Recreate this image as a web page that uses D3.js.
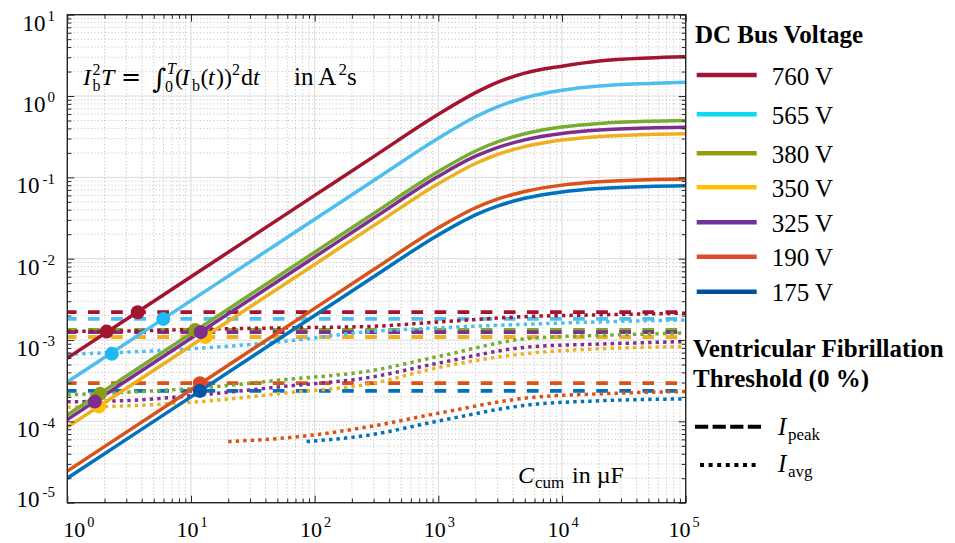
<!DOCTYPE html>
<html>
<head>
<meta charset="utf-8">
<script src="https://cdn.jsdelivr.net/npm/d3@7"></script>
<style>
  html, body { margin: 0; padding: 0; background: #fff; }
  svg { display: block; font-family: "Liberation Serif", "Times New Roman", serif; }
</style>
</head>
<body>
<svg id="chart" width="955" height="543"></svg>
<script>
// ---------- data ----------
const seriesNames = ['760 V', '565 V', '380 V', '350 V', '325 V', '190 V', '175 V'];

// cumulative capacitance (µF) at which the I²T curves are sampled
const capacitance = [1, 10, 100, 300, 1000, 2000, 3000, 5000, 10000, 20000, 50000, 100000];
// I²T in A²s for each DC bus voltage
const i2t760 = [6.0e-4, 6.0e-3, 0.060, 0.180, 0.596, 1.10, 1.47, 1.91, 2.33, 2.70, 2.94, 3.04];
const i2t565 = [3.05e-4, 3.05e-3, 0.0305, 0.0915, 0.303, 0.557, 0.736, 0.953, 1.18, 1.33, 1.43, 1.48];
const i2t380 = [1.2e-4, 1.2e-3, 0.012, 0.036, 0.118, 0.211, 0.273, 0.344, 0.415, 0.459, 0.489, 0.500];
const i2t350 = [8.5e-5, 8.5e-4, 0.0085, 0.0255, 0.0836, 0.148, 0.191, 0.239, 0.288, 0.317, 0.337, 0.344];
const i2t325 = [1.05e-4, 1.05e-3, 0.0105, 0.0315, 0.103, 0.182, 0.232, 0.289, 0.346, 0.381, 0.404, 0.412];
const i2t190 = [2.45e-5, 2.45e-4, 2.45e-3, 7.35e-3, 0.0240, 0.0423, 0.0539, 0.0671, 0.0803, 0.0882, 0.0935, 0.0954];
const i2t175 = [2.0e-5, 2.0e-4, 2.0e-3, 6.0e-3, 0.0196, 0.0346, 0.0443, 0.0553, 0.0662, 0.0728, 0.0773, 0.0788];

// ventricular fibrillation threshold from the peak current (constant)
const peakThreshold = [2.20e-3, 1.82e-3, 1.33e-3, 1.09e-3, 1.25e-3, 2.95e-4, 2.37e-4];

// ventricular fibrillation threshold from the average current
const avgCap = [1, 3, 12, 55, 280, 1000, 5500, 20000, 100000];
const avg760 = [1.28e-3, 1.29e-3, 1.36e-3, 1.41e-3, 1.47e-3, 1.67e-3, 1.95e-3, 2.04e-3, 2.14e-3];
const avg565 = [6.71e-4, 7.1e-4, 7.94e-4, 9.59e-4, 1.27e-3, 1.41e-3, 1.57e-3, 1.67e-3, 1.77e-3];
const avg380 = [2.12e-4, 2.28e-4, 2.58e-4, 3.24e-4, 4.18e-4, 6.27e-4, 1.05e-3, 1.14e-3, 1.22e-3];
const avg350 = [1.49e-4, 1.55e-4, 1.75e-4, 2.22e-4, 2.89e-4, 4.59e-4, 6.90e-4, 7.80e-4, 8.32e-4];
const avg325 = [1.74e-4, 1.80e-4, 2.12e-4, 2.68e-4, 3.48e-4, 5.20e-4, 8.24e-4, 8.91e-4, 9.59e-4];
const avgCap190 = [20, 75, 280, 1000, 5500, 20000, 100000];
const avg190 = [5.64e-5, 6.50e-5, 8.63e-5, 1.26e-4, 1.96e-4, 2.18e-4, 2.33e-4];
const avgCap175 = [86, 280, 1000, 5500, 20000, 100000];
const avg175 = [5.64e-5, 6.82e-5, 1.01e-4, 1.60e-4, 1.79e-4, 1.89e-4];

// crossings of each I²T curve with its thresholds
const peakCrossCap = [3.71, 5.97, 10.8, 13.1, 12.0, 11.8, 11.8];
const avgCrossCap = [2.08, 2.29, 1.84, 1.80, 1.67, null, null];
const avgCrossValue = [1.27e-3, 6.76e-4, 2.18e-4, 1.52e-4, 1.75e-4, null, null];

const xTickExp = [0, 1, 2, 3, 4, 5];
const yTickExp = [1, 0, -1, -2, -3, -4, -5];

// ---------- styling ----------
const lineColor   = ['#A2142F', '#4DBEEE', '#77AC30', '#EDB120', '#7E2F8E', '#D95319', '#0072BD'];
const markerColor = ['#A2142F', '#1DB9F0', '#8C9C14', '#FFC000', '#7E2F8E', '#E0452A', '#0055A5'];
const legendColor = ['#A2143A', '#10D8F0', '#959B0A', '#FFC000', '#7030A0', '#E04A30', '#0050A0'];

const i2tSeries = [i2t760, i2t565, i2t380, i2t350, i2t325, i2t190, i2t175];
const avgSeries = [
  [avgCap, avg760], [avgCap, avg565], [avgCap, avg380], [avgCap, avg350],
  [avgCap, avg325], [avgCap190, avg190], [avgCap175, avg175]
];

// ---------- layout ----------
const svg = d3.select('#chart');
const plot = { left: 67.3, right: 685.7, top: 14.7, bottom: 502.7 };
const x = d3.scaleLog().domain([1e0, 1e5]).range([plot.left, plot.right]);
const y = d3.scaleLog().domain([1e-5, 1e1]).range([plot.bottom, plot.top]);
const ink = '#262626';

const majorX = xTickExp.map(e => Math.pow(10, e));
const majorY = yTickExp.map(e => Math.pow(10, e));
const minorX = [], minorY = [];
for (let e = 0; e < 5; e++) for (let m = 2; m < 10; m++) minorX.push(m * Math.pow(10, e));
for (let e = -5; e < 1; e++) for (let m = 2; m < 10; m++) minorY.push(m * Math.pow(10, e));

// ---------- grid ----------
const grid = svg.append('g');
grid.selectAll('.mx').data(minorX).join('line')
  .attr('x1', d => x(d)).attr('x2', d => x(d)).attr('y1', plot.top).attr('y2', plot.bottom)
  .attr('stroke', '#bdbdbd').attr('stroke-width', 1).attr('stroke-dasharray', '1,2.4');
grid.selectAll('.my').data(minorY).join('line')
  .attr('y1', d => y(d)).attr('y2', d => y(d)).attr('x1', plot.left).attr('x2', plot.right)
  .attr('stroke', '#bdbdbd').attr('stroke-width', 1).attr('stroke-dasharray', '1,2.4');
grid.selectAll('.gx').data(majorX).join('line')
  .attr('x1', d => x(d)).attr('x2', d => x(d)).attr('y1', plot.top).attr('y2', plot.bottom)
  .attr('stroke', '#dadada').attr('stroke-width', 1);
grid.selectAll('.gy').data(majorY).join('line')
  .attr('y1', d => y(d)).attr('y2', d => y(d)).attr('x1', plot.left).attr('x2', plot.right)
  .attr('stroke', '#dadada').attr('stroke-width', 1);

// ---------- series ----------
svg.append('clipPath').attr('id', 'plotClip').append('rect')
  .attr('x', plot.left).attr('y', plot.top)
  .attr('width', plot.right - plot.left).attr('height', plot.bottom - plot.top);
const area = svg.append('g').attr('clip-path', 'url(#plotClip)');

const line = d3.line().x(d => x(d[0])).y(d => y(d[1])).curve(d3.curveMonotoneX);

// peak-current thresholds (dashed)
peakThreshold.forEach((v, i) => {
  area.append('path')
    .attr('d', line([[1, v], [1e5, v]]))
    .attr('fill', 'none').attr('stroke', lineColor[i]).attr('stroke-width', 3.8)
    .attr('stroke-dasharray', '11.7,11.4').attr('stroke-dashoffset', 2.4);
});

// average-current thresholds (dotted)
avgSeries.forEach(([caps, vals], i) => {
  area.append('path')
    .attr('d', line(caps.map((c, j) => [c, vals[j]])))
    .attr('fill', 'none').attr('stroke', lineColor[i]).attr('stroke-width', 3.5)
    .attr('stroke-dasharray', '3.4,4.1');
});

// I²T curves (solid)
i2tSeries.forEach((vals, i) => {
  area.append('path')
    .attr('d', line(capacitance.map((c, j) => [c, vals[j]])))
    .attr('fill', 'none').attr('stroke', lineColor[i]).attr('stroke-width', 3.5)
    .attr('stroke-linejoin', 'round');
});

// crossing markers
seriesNames.forEach((_, i) => {
  area.append('circle')
    .attr('cx', x(peakCrossCap[i])).attr('cy', y(peakThreshold[i])).attr('r', 7)
    .attr('fill', markerColor[i]);
  if (avgCrossCap[i] != null) {
    area.append('circle')
      .attr('cx', x(avgCrossCap[i])).attr('cy', y(avgCrossValue[i])).attr('r', 7)
      .attr('fill', markerColor[i]);
  }
});

// ---------- frame and ticks ----------
function tickRow(axisFn, scale, values, size, transform) {
  svg.append('g').attr('transform', transform)
    .call(axisFn(scale).tickValues(values).tickSize(size).tickFormat(''))
    .call(g => g.select('.domain').remove())
    .call(g => g.selectAll('line').attr('stroke', ink).attr('stroke-width', 1));
}
tickRow(d3.axisBottom, x, majorX, -7, `translate(0,${plot.bottom})`);
tickRow(d3.axisBottom, x, minorX, -4, `translate(0,${plot.bottom})`);
tickRow(d3.axisTop, x, majorX, -7, `translate(0,${plot.top})`);
tickRow(d3.axisTop, x, minorX, -4, `translate(0,${plot.top})`);
tickRow(d3.axisLeft, y, majorY, -7, `translate(${plot.left},0)`);
tickRow(d3.axisLeft, y, minorY, -4, `translate(${plot.left},0)`);
tickRow(d3.axisRight, y, majorY, -7, `translate(${plot.right},0)`);
tickRow(d3.axisRight, y, minorY, -4, `translate(${plot.right},0)`);

svg.append('rect')
  .attr('x', plot.left).attr('y', plot.top)
  .attr('width', plot.right - plot.left).attr('height', plot.bottom - plot.top)
  .attr('fill', 'none').attr('stroke', ink).attr('stroke-width', 1.4);

// ---------- tick labels ----------
function powerLabel(g, exp, size) {
  const t = g.append('text').attr('fill', '#000').attr('font-size', size);
  t.append('tspan').text('10');
  t.append('tspan').attr('font-size', size * 0.65).attr('dx', exp < 0 ? 3 : 2)
    .attr('dy', -size * 0.42).text(String(exp));
  return t;
}

xTickExp.forEach(e => {
  const t = powerLabel(svg, e, 22).attr('y', 536.5);
  const w = t.node().getComputedTextLength();
  let left = x(Math.pow(10, e)) - w / 2;
  left = Math.max(left, plot.left - 4);
  left = Math.min(left, plot.right + 12 - w);
  t.attr('x', left);
});

yTickExp.forEach(e => {
  const base = Math.min(y(Math.pow(10, e)) + 16, plot.bottom + 4);
  powerLabel(svg, e, 23).attr('text-anchor', 'end').attr('x', 55).attr('y', base);
});

// ---------- rich text helper: each piece is placed at its own x ----------
function placeText(parent, baseline, pieces) {
  const g = parent.append('g');
  pieces.forEach(p => {
    g.append('text')
      .attr('x', p.x).attr('y', baseline + (p.dy || 0))
      .attr('font-size', p.size)
      .attr('font-family', p.font || null)
      .attr('font-style', p.it ? 'italic' : 'normal')
      .attr('fill', '#000')
      .style('white-space', 'pre')
      .text(p.t);
  });
  return g;
}

// formula in the top-left corner
const fs = 24, fsS = 16;
placeText(svg, 85, [
  { t: 'I', x: 83, size: fs, it: true },
  { t: 'b', x: 92.5, size: fsS, dy: 6 },
  { t: '2', x: 92.5, size: fsS, dy: -10 },
  { t: 'T', x: 101, size: fs, it: true },
  { t: '=', x: 121, size: fs, font: 'DejaVu Serif' },
  { t: '\u222B', x: 152, size: 27, font: 'DejaVu Serif', dy: 3 },
  { t: '0', x: 165, size: fsS, dy: 7 },
  { t: 'T', x: 167, size: fsS, it: true, dy: -11 },
  { t: '(', x: 175, size: fs },
  { t: 'I', x: 181.5, size: fs, it: true },
  { t: 'b', x: 192, size: fsS, dy: 6 },
  { t: '(', x: 200.5, size: fs },
  { t: 't', x: 208, size: fs, it: true },
  { t: '))', x: 216, size: fs },
  { t: '2', x: 232, size: fsS, dy: -10 },
  { t: 'd', x: 241, size: fs },
  { t: 't', x: 253, size: fs, it: true },
  { t: 'in A', x: 294, size: 25 },
  { t: '2', x: 338.5, size: 17, dy: -10 },
  { t: 's', x: 347, size: 25 }
]);

// x-axis quantity, placed inside the plot
placeText(svg, 483, [
  { t: 'C', x: 518, size: 24, it: true },
  { t: 'cum', x: 535, size: 17, dy: 5 },
  { t: 'in \u00B5F', x: 572, size: 24 }
]);

// ---------- legend ----------
const legend = svg.append('g');
legend.append('text').attr('x', 695).attr('y', 43).attr('font-size', 25)
  .attr('font-weight', 'bold').text('DC Bus Voltage');

const legendRowY = [75, 114.3, 153.3, 187.3, 222.3, 256.7, 291.7];
seriesNames.forEach((name, i) => {
  legend.append('line')
    .attr('x1', 696.7).attr('x2', 756.7).attr('y1', legendRowY[i]).attr('y2', legendRowY[i])
    .attr('stroke', legendColor[i]).attr('stroke-width', 4.5);
  legend.append('text').attr('x', 771.7).attr('y', legendRowY[i] + 9.5)
    .attr('font-size', 25).text(name);
});

legend.append('text').attr('x', 693).attr('y', 356.7).attr('font-size', 25)
  .attr('font-weight', 'bold').text('Ventricular Fibrillation');
legend.append('text').attr('x', 693).attr('y', 387).attr('font-size', 25)
  .attr('font-weight', 'bold').text('Threshold (0 %)');

legend.append('line').attr('x1', 695).attr('x2', 761).attr('y1', 426.7).attr('y2', 426.7)
  .attr('stroke', '#000').attr('stroke-width', 4).attr('stroke-dasharray', '13.2,4.4');
placeText(legend, 435, [
  { t: 'I', x: 778, size: 25, it: true },
  { t: 'peak', x: 788, size: 17, dy: 5 }
]);

legend.append('line').attr('x1', 700).attr('x2', 758).attr('y1', 465).attr('y2', 465)
  .attr('stroke', '#000').attr('stroke-width', 4).attr('stroke-dasharray', '4,4.6');
placeText(legend, 471.7, [
  { t: 'I', x: 778, size: 25, it: true },
  { t: 'avg', x: 788, size: 17, dy: 5 }
]);
</script>
</body>
</html>
